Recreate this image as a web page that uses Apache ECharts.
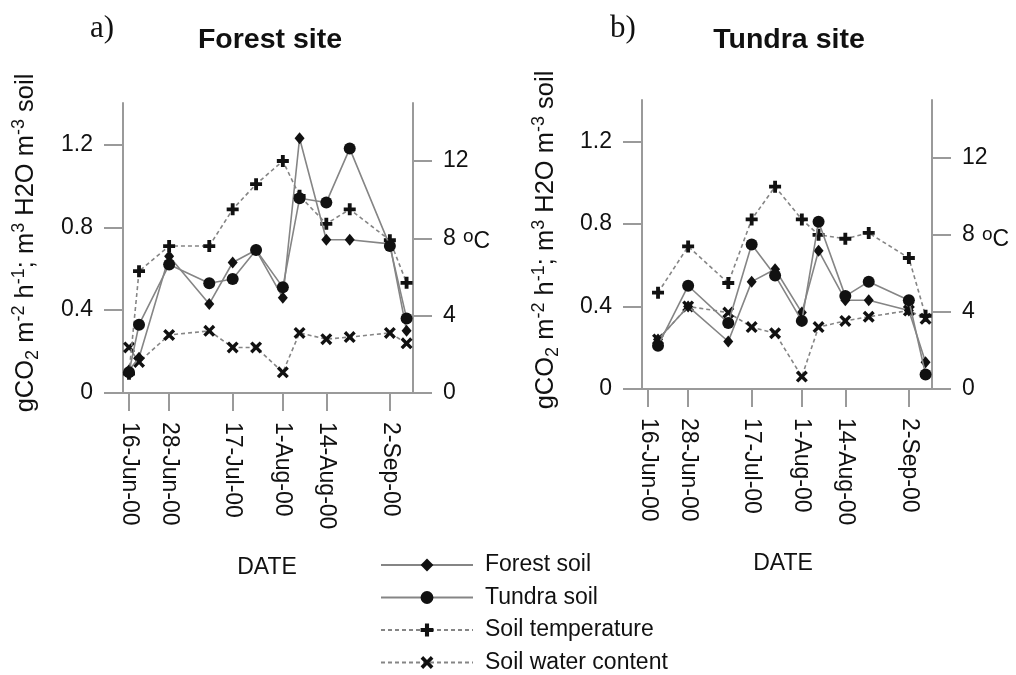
<!DOCTYPE html>
<html><head><meta charset="utf-8">
<script src="https://cdn.jsdelivr.net/npm/echarts@6/dist/echarts.min.js"></script>
<style>html,body{margin:0;padding:0;background:#fff}#c{width:1016px;height:675px}</style>
</head><body><div id="c"></div>
<script>
// ---- data ----
const forestDates = ['2000-06-16','2000-06-19','2000-06-28','2000-07-10','2000-07-17','2000-07-24','2000-08-01','2000-08-06','2000-08-14','2000-08-21','2000-09-02','2000-09-07'];
const forestSiteForestSoil = [0.11,0.17,0.66,0.43,0.63,0.69,0.46,1.23,0.74,0.74,0.72,0.30];
const forestSiteTundraSoil = [0.10,0.33,0.62,0.53,0.55,0.69,0.51,0.94,0.92,1.18,0.71,0.36];
const forestSiteTemp = [1.0,6.3,7.6,7.6,9.5,10.8,12.0,10.2,8.75,9.5,7.9,5.7];
const forestSiteWater = [0.22,0.15,0.28,0.30,0.22,0.22,0.10,0.29,0.26,0.27,0.29,0.24];

const tundraDates = ['2000-06-19','2000-06-28','2000-07-10','2000-07-17','2000-07-24','2000-08-01','2000-08-06','2000-08-14','2000-08-21','2000-09-02','2000-09-07'];
const tundraSiteForestSoil = [0.24,0.40,0.23,0.52,0.58,0.37,0.67,0.43,0.43,0.38,0.13];
const tundraSiteTundraSoil = [0.21,0.50,0.32,0.70,0.55,0.33,0.81,0.45,0.52,0.43,0.07];
const tundraSiteTemp = [5.0,7.4,5.5,8.8,10.5,8.8,8.0,7.8,8.1,6.8,3.8];
const tundraSiteWater = [0.24,0.40,0.37,0.30,0.27,0.06,0.30,0.33,0.35,0.38,0.34];

const dateTicks = ['2000-06-16','2000-06-28','2000-07-17','2000-08-01','2000-08-14','2000-09-02'];
const fluxTicks = [0, 0.4, 0.8, 1.2];
const tempTicks = [0, 4, 8, 12];
const seriesNames = ['Forest soil','Tundra soil','Soil temperature','Soil water content'];
const monthNames = ['Jan','Feb','Mar','Apr','May','Jun','Jul','Aug','Sep','Oct','Nov','Dec'];

// ---- helpers ----
function ts(s){ const p = s.split('-').map(Number); return new Date(p[0], p[1]-1, p[2]).getTime(); }
function fmtDate(v){ const d = new Date(v); return d.getDate() + '-' + monthNames[d.getMonth()] + '-' + String(d.getFullYear()).slice(2); }
function pairs(dates, vals){ return dates.map((d,i)=>[ts(d), vals[i]]); }

const FONT = '"Liberation Sans", Arial, sans-serif';
const AXIS_COL = '#9a9a9a';
const LINE_COL = '#858585';
const MARK_COL = '#111';
const PLUS = 'path://M3.4,0H6.6V3.4H10V6.6H6.6V10H3.4V6.6H0V3.4H3.4Z';
const CROSS = 'path://M0,2L2,0L5,3L8,0L10,2L7,5L10,8L8,10L5,7L2,10L0,8L3,5Z';

const xMin = new Date(2000,5,14,5).getTime();
const xMax = new Date(2000,8,8,22).getTime();

function xAxisCfg(gi){
  return {
    type:'value', gridIndex:gi, min:xMin, max:xMax, scale:true,
    axisLine:{show:true, onZero:false, lineStyle:{color:AXIS_COL, width:2}},
    axisTick:{show:true, length:18, lineStyle:{color:AXIS_COL, width:2}, customValues: dateTicks.map(ts)},
    axisLabel:{show:true, rotate:-90, margin:29, fontSize:23, fontFamily:FONT, color:'#111',
      customValues: dateTicks.map(ts), formatter: (v)=>fmtDate(v)},
    splitLine:{show:false}
  };
}
function yAxisCfg(gi, pos, max, ticks){
  return {
    type:'value', gridIndex:gi, position:pos, min:0, max:max,
    axisLine:{show:true, onZero:false, lineStyle:{color:AXIS_COL, width:2}},
    axisTick:{show:true, length:19, lineStyle:{color:AXIS_COL, width:2}, customValues: ticks},
    axisLabel:{show:true, margin:30, fontSize:23, fontFamily:FONT, color:'#111', customValues: ticks},
    splitLine:{show:false}
  };
}
function ser(name, dates, vals, gi, yi, symbol, size, dashed, z){
  return {
    name, type:'line', xAxisIndex:gi, yAxisIndex:yi, data:pairs(dates, vals),
    symbol, symbolSize:size, showSymbol:true, showAllSymbol:true,
    lineStyle:{color:LINE_COL, width:1.6, type: dashed ? [4,3] : 'solid'},
    itemStyle:{color:MARK_COL, borderWidth:0},
    emphasis:{disabled:true}, animation:false, z
  };
}

const yName = '{n|gCO}{sb|2}{n| m}{sp|-2}{n| h}{sp|-1}{n|; m}{sp|3}{n| H2O m}{sp|-3}{n| soil}';
const yRich = {
  n:{fontSize:25.5, fontFamily:FONT, fill:'#111', lineHeight:32},
  sp:{fontSize:18, fontFamily:FONT, fill:'#111', lineHeight:32, verticalAlign:'top'},
  sb:{fontSize:18, fontFamily:FONT, fill:'#111', lineHeight:32, verticalAlign:'bottom'}
};
const degRich = {
  o:{fontSize:19, fontFamily:FONT, fill:'#111', verticalAlign:'top', lineHeight:30},
  c:{fontSize:23, fontFamily:FONT, fill:'#111', lineHeight:30}
};

const option = {
  backgroundColor:'#fff',
  animation:false,
  grid:[
    {left:123, top:103, width:290, height:290},
    {left:642, top:100, width:290, height:289}
  ],
  xAxis:[xAxisCfg(0), xAxisCfg(1)],
  yAxis:[
    yAxisCfg(0,'left',1.4,fluxTicks), yAxisCfg(0,'right',15,tempTicks),
    yAxisCfg(1,'left',1.4,fluxTicks), yAxisCfg(1,'right',15,tempTicks)
  ],
  legend:{
    orient:'vertical', left:380, top:553, height:122, padding:0, itemWidth:92, itemHeight:16, itemGap:8.5,
    data: seriesNames,
    textStyle:{fontSize:23, fontFamily:FONT, color:'#111', lineHeight:24, padding:[0,0,0,7]},
    selectedMode:false
  },
  series:[
    ser(seriesNames[3], forestDates, forestSiteWater, 0, 0, CROSS, 12, true, 2),
    ser(seriesNames[2], forestDates, forestSiteTemp, 0, 1, PLUS, 12, true, 3),
    ser(seriesNames[0], forestDates, forestSiteForestSoil, 0, 0, 'diamond', [10,12], false, 4),
    ser(seriesNames[1], forestDates, forestSiteTundraSoil, 0, 0, 'circle', 12, false, 5),
    ser(seriesNames[3], tundraDates, tundraSiteWater, 1, 2, CROSS, 12, true, 2),
    ser(seriesNames[2], tundraDates, tundraSiteTemp, 1, 3, PLUS, 12, true, 3),
    ser(seriesNames[0], tundraDates, tundraSiteForestSoil, 1, 2, 'diamond', [10,12], false, 4),
    ser(seriesNames[1], tundraDates, tundraSiteTundraSoil, 1, 2, 'circle', 12, false, 5)
  ],
  graphic:[
    {type:'text', x:90, y:29, style:{text:'a)', font:'31px "Liberation Serif", "DejaVu Serif", serif', fill:'#111', textAlign:'left', textVerticalAlign:'middle'}},
    {type:'text', x:610, y:29, style:{text:'b)', font:'31px "Liberation Serif", "DejaVu Serif", serif', fill:'#111', textAlign:'left', textVerticalAlign:'middle'}},
    {type:'text', x:270, y:40, style:{text:'Forest site', font:'bold 28.5px ' + FONT, fill:'#111', textAlign:'center', textVerticalAlign:'middle'}},
    {type:'text', x:789, y:40, style:{text:'Tundra site', font:'bold 28.5px ' + FONT, fill:'#111', textAlign:'center', textVerticalAlign:'middle'}},
    {type:'text', x:267, y:568, style:{text:'DATE', font:'23px ' + FONT, fill:'#111', textAlign:'center', textVerticalAlign:'middle'}},
    {type:'text', x:783, y:564, style:{text:'DATE', font:'23px ' + FONT, fill:'#111', textAlign:'center', textVerticalAlign:'middle'}},
    {type:'text', x:463, y:242, style:{text:'{o|o}{c|C}', rich:degRich, textAlign:'left', textVerticalAlign:'middle'}},
    {type:'text', x:982, y:240, style:{text:'{o|o}{c|C}', rich:degRich, textAlign:'left', textVerticalAlign:'middle'}},
    {type:'text', x:26, y:243, rotation:Math.PI/2, style:{text:yName, rich:yRich, textAlign:'center', textVerticalAlign:'middle'}},
    {type:'text', x:546, y:240, rotation:Math.PI/2, style:{text:yName, rich:yRich, textAlign:'center', textVerticalAlign:'middle'}}
  ]
};
const chart = echarts.init(document.getElementById('c'), null, {renderer:'canvas'});
chart.setOption(option);
</script>
</body></html>
